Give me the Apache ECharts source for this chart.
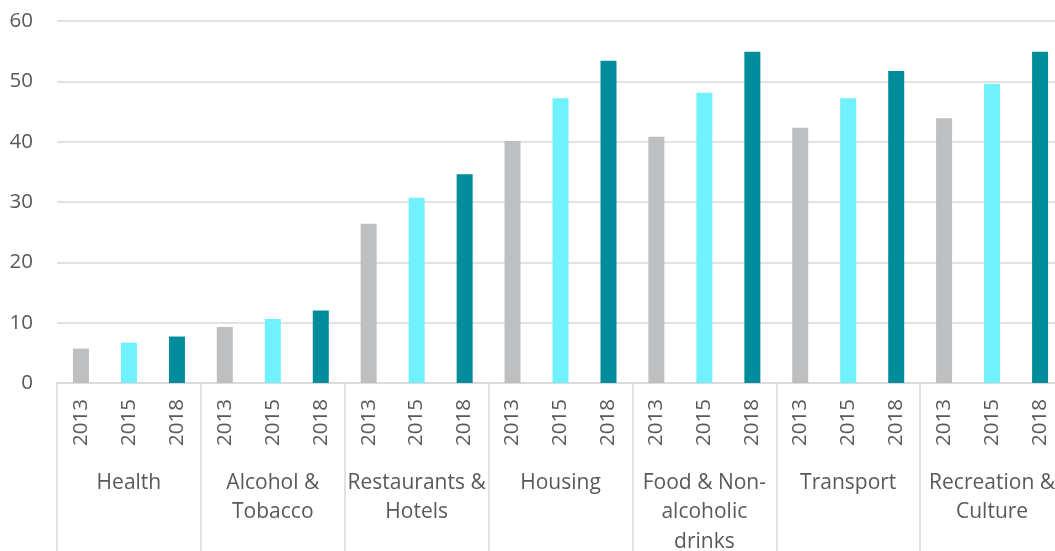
<!DOCTYPE html>
<html>
<head>
<meta charset="utf-8">
<title>Spending by category, 2013–2018</title>
<script src="https://cdn.jsdelivr.net/npm/echarts@6/dist/echarts.min.js"></script>
<style>
  html, body { margin: 0; padding: 0; background: #ffffff; }
  #chart { width: 1055px; height: 551px; }
</style>
</head>
<body>
<div id="chart"></div>
<script>
// Spending categories (outer axis level) and survey years (inner axis level)
const groups = [
  'Health',
  'Alcohol &\nTobacco',
  'Restaurants &\nHotels',
  'Housing',
  'Food & Non-\nalcoholic\ndrinks',
  'Transport',
  'Recreation &\nCulture'
];
const years = ['2013', '2015', '2018'];

// Values per year, one entry per category
const values2013 = [5.7, 9.3, 26.4, 40.1, 40.8, 42.3, 43.9];
const values2015 = [6.7, 10.6, 30.7, 47.2, 48.1, 47.2, 49.6];
const values2018 = [7.7, 12.0, 34.6, 53.4, 54.9, 51.7, 54.9];

// Value axis ticks
const yMin = 0, yMax = 60, yStep = 10;

const seriesValues = [values2013, values2015, values2018];
const colors = ['#BEBFC1', '#71F0FE', '#008C9B'];

const textColor = '#595959';
const lineColor = '#D9D9D9';
const fontFamily = '"Open Sans", "Noto Sans", sans-serif';

// Inner level: one year label per bar slot
const yearLabels = [];
groups.forEach(() => years.forEach(y => yearLabels.push(y)));

const chart = echarts.init(document.getElementById('chart'), null, { renderer: 'canvas' });

chart.setOption({
  animation: false,
  backgroundColor: '#ffffff',
  textStyle: { fontFamily: fontFamily },
  // the plot runs a little past the right edge of the canvas
  grid: {
    left: 57, width: 1007, top: 21, bottom: 168,
    containLabel: false,
    outerBoundsMode: 'none'
  },
  xAxis: [
    {
      type: 'category',
      data: yearLabels,
      position: 'bottom',
      boundaryGap: true,
      axisLine: { show: true, lineStyle: { color: lineColor, width: 1.5 } },
      axisTick: { show: false },
      splitLine: { show: false },
      axisLabel: {
        interval: 0,
        rotate: 90,
        margin: 16,
        fontSize: 20.5,
        color: textColor,
        fontFamily: fontFamily
      }
    },
    {
      type: 'category',
      data: groups,
      position: 'bottom',
      boundaryGap: true,
      axisLine: { show: false },
      axisTick: {
        show: true,
        inside: false,
        length: 175,
        interval: 0,
        lineStyle: { color: lineColor, width: 1.5 }
      },
      splitLine: { show: false },
      axisLabel: {
        interval: 0,
        margin: 85,
        fontSize: 21,
        lineHeight: 29.5,
        verticalAlign: 'top',
        align: 'center',
        color: textColor,
        fontFamily: fontFamily
      }
    }
  ],
  yAxis: {
    type: 'value',
    min: yMin,
    max: yMax,
    interval: yStep,
    axisLine: { show: false },
    axisTick: { show: false },
    splitLine: { show: true, lineStyle: { color: lineColor, width: 1.5 } },
    axisLabel: {
      margin: 24,
      fontSize: 20.5,
      color: textColor,
      fontFamily: fontFamily
    }
  },
  series: years.map((year, i) => ({
    name: year,
    type: 'bar',
    xAxisIndex: 1,
    data: seriesValues[i],
    barWidth: 16,
    barGap: '200%',
    itemStyle: { color: colors[i] }
  }))
});
</script>
</body>
</html>
